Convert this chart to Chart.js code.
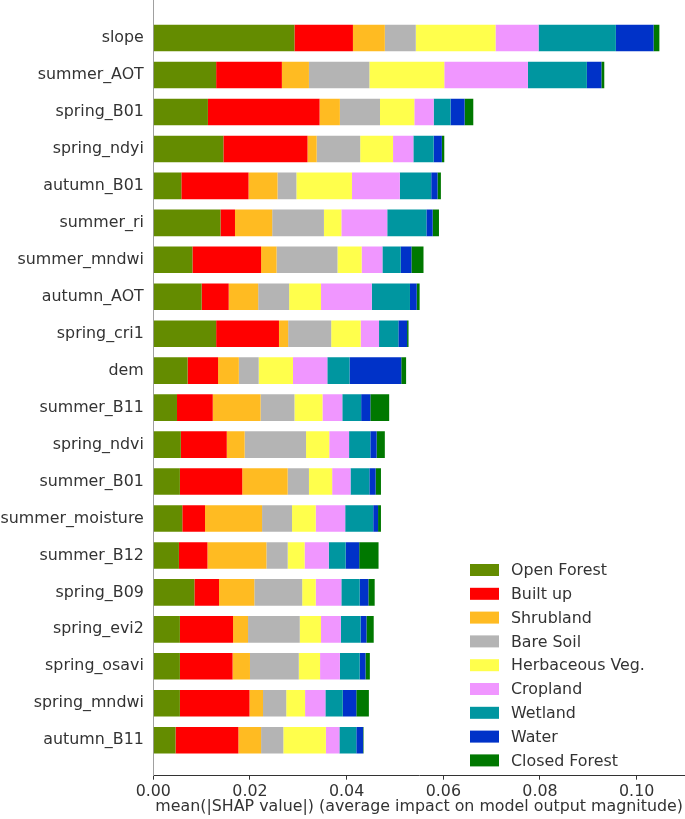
<!DOCTYPE html>
<html>
<head>
<meta charset="utf-8">
<script src="https://cdn.jsdelivr.net/npm/chart.js@4.4.0/dist/chart.umd.min.js"></script>
<style>
  body { margin: 0; background: #fff; }
  #wrap { width: 685px; height: 819px; }
</style>
</head>
<body>
<div id="wrap"><canvas id="shapChart" width="685" height="819"></canvas></div>
<script>
// features, top to bottom
const features = ['slope', 'summer_AOT', 'spring_B01', 'spring_ndyi', 'autumn_B01', 'summer_ri',
  'summer_mndwi', 'autumn_AOT', 'spring_cri1', 'dem', 'summer_B11', 'spring_ndvi', 'summer_B01',
  'summer_moisture', 'summer_B12', 'spring_B09', 'spring_evi2', 'spring_osavi', 'spring_mndwi', 'autumn_B11'];

const xTicks = [0, 0.02, 0.04, 0.06, 0.08, 0.10];

const classNames = ['Open Forest', 'Built up', 'Shrubland', 'Bare Soil', 'Herbaceous Veg.',
  'Cropland', 'Wetland', 'Water', 'Closed Forest'];

// mean |SHAP| per class
const openForest   = [0.0292, 0.0130, 0.0113, 0.0145, 0.0058, 0.0139, 0.0081, 0.0100, 0.0130, 0.0071, 0.0049, 0.0057, 0.0055, 0.0060, 0.0053, 0.0085, 0.0055, 0.0055, 0.0055, 0.0046];
const builtUp      = [0.0121, 0.0136, 0.0231, 0.0174, 0.0139, 0.0030, 0.0142, 0.0056, 0.0130, 0.0063, 0.0074, 0.0095, 0.0129, 0.0047, 0.0059, 0.0051, 0.0110, 0.0109, 0.0144, 0.0130];
const shrubland    = [0.0066, 0.0056, 0.0042, 0.0019, 0.0060, 0.0077, 0.0032, 0.0061, 0.0019, 0.0043, 0.0099, 0.0037, 0.0094, 0.0118, 0.0122, 0.0073, 0.0031, 0.0036, 0.0028, 0.0047];
const bareSoil     = [0.0064, 0.0125, 0.0083, 0.0090, 0.0039, 0.0107, 0.0126, 0.0064, 0.0089, 0.0041, 0.0070, 0.0127, 0.0044, 0.0062, 0.0044, 0.0099, 0.0107, 0.0101, 0.0048, 0.0046];
const herbaceous   = [0.0165, 0.0155, 0.0071, 0.0068, 0.0115, 0.0036, 0.0050, 0.0066, 0.0061, 0.0071, 0.0058, 0.0048, 0.0048, 0.0049, 0.0035, 0.0028, 0.0044, 0.0044, 0.0039, 0.0088];
const cropland     = [0.0089, 0.0173, 0.0040, 0.0042, 0.0099, 0.0095, 0.0043, 0.0105, 0.0038, 0.0071, 0.0041, 0.0041, 0.0038, 0.0061, 0.0050, 0.0053, 0.0041, 0.0041, 0.0042, 0.0028];
const wetland      = [0.0160, 0.0122, 0.0035, 0.0042, 0.0065, 0.0081, 0.0038, 0.0079, 0.0040, 0.0046, 0.0039, 0.0044, 0.0039, 0.0058, 0.0035, 0.0038, 0.0041, 0.0041, 0.0036, 0.0035];
const water        = [0.0078, 0.0030, 0.0029, 0.0017, 0.0013, 0.0013, 0.0022, 0.0014, 0.0018, 0.0107, 0.0019, 0.0013, 0.0013, 0.0010, 0.0028, 0.0018, 0.0012, 0.0012, 0.0028, 0.0014];
const closedForest = [0.0012, 0.0006, 0.0018, 0.0005, 0.0007, 0.0013, 0.0025, 0.0006, 0.0003, 0.0010, 0.0039, 0.0017, 0.0011, 0.0006, 0.0040, 0.0013, 0.0015, 0.0009, 0.0026, 0.0001];

const series = [openForest, builtUp, shrubland, bareSoil, herbaceous, cropland, wetland, water, closedForest];
const classColors = ['#648c00', '#ff0000', '#ffbb22', '#b4b4b4', '#ffff4c', '#f096ff', '#0096a0', '#0032c8', '#007800'];

const fontFamily = '"DejaVu Sans", sans-serif';
const fontSize = 15.85;
const textColor = '#333333';

// legend drawn in the lower right of the plot, like matplotlib's
const legendBox = { x: 470, y: 570, step: 23.8 };
const shapLegend = {
  id: 'shapLegend',
  afterDraw(chart) {
    const ctx = chart.ctx;
    ctx.save();
    ctx.font = fontSize + 'px ' + fontFamily;
    ctx.textBaseline = 'middle';
    chart.data.datasets.forEach((ds, i) => {
      const cy = legendBox.y + i * legendBox.step;
      ctx.fillStyle = ds.backgroundColor;
      ctx.fillRect(legendBox.x, cy - 6, 29, 12);
      ctx.fillStyle = textColor;
      ctx.fillText(ds.label, legendBox.x + 41, cy + 1);
    });
    ctx.restore();
  }
};

const ctx = document.getElementById('shapChart').getContext('2d');
new Chart(ctx, {
  type: 'bar',
  data: {
    datasets: classNames.map((name, k) => ({
      label: name,
      data: series[k].map((v, i) => ({ x: v, y: i })),
      backgroundColor: classColors[k],
      borderWidth: 0,
      categoryPercentage: 0.8,
      barPercentage: 0.9
    }))
  },
  options: {
    indexAxis: 'y',
    responsive: false,
    animation: false,
    layout: { padding: 0 },
    plugins: {
      legend: { display: false },
      tooltip: { enabled: false }
    },
    scales: {
      x: {
        type: 'linear',
        stacked: true,
        min: 0,
        max: 0.11,
        afterBuildTicks: s => { s.ticks = xTicks.map(v => ({ value: v })); },
        afterFit: s => { s.height = 43.3; s.paddingLeft = 0; s.paddingRight = 0; },
        grid: { display: true, drawOnChartArea: false, drawTicks: true, tickLength: 4, color: textColor },
        border: { display: true, color: textColor, width: 1 },
        ticks: {
          padding: 3,
          color: textColor,
          maxRotation: 0,
          font: { family: fontFamily, size: fontSize },
          callback: v => v.toFixed(2)
        },
        title: {
          display: true,
          text: 'mean(|SHAP value|) (average impact on model output magnitude)',
          color: textColor,
          font: { family: fontFamily, size: fontSize },
          padding: { top: 0, bottom: 3 }
        }
      },
      y: {
        type: 'linear',
        stacked: true,
        reverse: true,
        offset: false,
        min: -1.03,
        max: 19.96,
        afterBuildTicks: s => { s.ticks = features.map((f, i) => ({ value: i })); },
        afterFit: s => { s.width = 153.3; s.paddingTop = 0; s.paddingBottom = 0; },
        grid: { display: false, drawTicks: false },
        border: { display: true, color: '#a0a0a0', width: 1 },
        ticks: {
          autoSkip: false,
          padding: 9.5,
          color: textColor,
          font: { family: fontFamily, size: fontSize },
          callback: v => features[v]
        }
      }
    }
  },
  plugins: [shapLegend]
});
</script>
</body>
</html>
